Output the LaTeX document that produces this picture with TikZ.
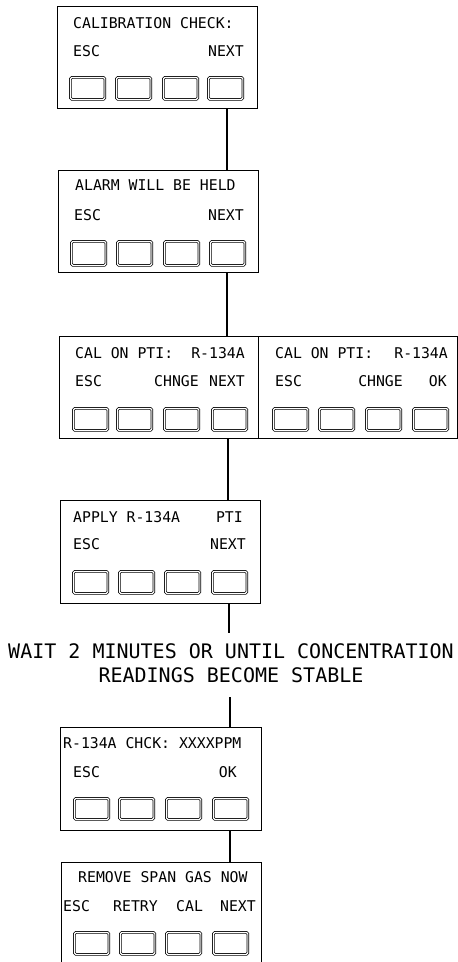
\documentclass[tikz,border=0pt]{standalone}
\usepackage{fontspec}
\newfontfamily\plotfont{DejaVu Sans Mono}
\usetikzlibrary{positioning}

\tikzset{
    screen/.style={draw, line width=0.9pt, minimum width=200pt, minimum height=102pt,
        inner sep=0pt, anchor=north west},
    key/.style={draw, line width=0.7pt, double, double distance=1.2pt, rounded corners=1.5pt,
        minimum width=34.5pt, minimum height=22pt, inner sep=0pt, anchor=north west},
    txt/.style={font=\plotfont\fontsize{14.8}{17}\selectfont, inner sep=0pt},
    link/.style={line width=1.1pt},
}

\begin{document}
\begin{tikzpicture}[x=1pt, y=-1pt]
\useasboundingbox (0,0) rectangle (458,962);

% ── SCREEN 1: Calibration check ──────────────────────────────────
\begin{scope}[shift={(57,6)}]
    \node[screen] (cal) at (0,0) {};
    \node[txt, anchor=west] (calT) at (16,17) {CALIBRATION CHECK:};
    \node[txt, anchor=west] (calEsc) at (16,45) {ESC};
    \node[txt, anchor=east] (calNext) at (187,45) {NEXT};
    \foreach \i/\kx in {0/13, 1/59, 2/106, 3/151} {
        \node[key] (calk\i) at (\kx,71) {};
    }
\end{scope}

% ── SCREEN 2: Alarm held ─────────────────────────────────────────
\begin{scope}[shift={(58,170)}]
    \node[screen] (alarm) at (0,0) {};
    \node[txt, anchor=west] (alarmT) at (17,15) {ALARM WILL BE HELD};
    \node[txt, anchor=west] (alarmEsc) at (16,45) {ESC};
    \node[txt, anchor=east] (alarmNext) at (186,45) {NEXT};
    \foreach \i/\kx in {0/13, 1/59, 2/106, 3/152} {
        \node[key, minimum height=24pt] (alarmk\i) at (\kx,71) {};
    }
\end{scope}

% ── SCREEN 3: Gas selection (two panels) ─────────────────────────
\begin{scope}[shift={(59,336)}]
    \node[screen, minimum width=199pt] (pti) at (0,0) {};
    \node[txt, anchor=west] (ptiT) at (16,17) {CAL ON PTI:};
    \node[txt, anchor=east] (ptiGas) at (186,17) {R-134A};
    \node[txt, anchor=west] (ptiEsc) at (16,45) {ESC};
    \node[txt, anchor=east] (ptiChg) at (140,45) {CHNGE};
    \node[txt, anchor=east] (ptiNext) at (186,45) {NEXT};
    \foreach \i/\kx in {0/14, 1/58, 2/105, 3/153} {
        \node[key] (ptik\i) at (\kx,72) {};
    }
\end{scope}

\begin{scope}[shift={(258,336)}]
    \node[screen, minimum width=199pt] (ptiok) at (0,0) {};
    \node[txt, anchor=west] (ptiokT) at (17,17) {CAL ON PTI:};
    \node[txt, anchor=east] (ptiokGas) at (190,17) {R-134A};
    \node[txt, anchor=west] (ptiokEsc) at (17,45) {ESC};
    \node[txt, anchor=east] (ptiokChg) at (145,45) {CHNGE};
    \node[txt, anchor=east] (ptiokOk) at (189,45) {OK};
    \foreach \i/\kx in {0/15, 1/61, 2/108, 3/155} {
        \node[key] (ptiokk\i) at (\kx,72) {};
    }
\end{scope}

% ── SCREEN 4: Apply gas ──────────────────────────────────────────
\begin{scope}[shift={(60,500)}]
    \node[screen, minimum height=103pt] (apply) at (0,0) {};
    \node[txt, anchor=west] (applyT) at (13,17) {APPLY R-134A};
    \node[txt, anchor=east] (applyPti) at (183,17) {PTI};
    \node[txt, anchor=west] (applyEsc) at (13,44) {ESC};
    \node[txt, anchor=east] (applyNext) at (186,44) {NEXT};
    \foreach \i/\kx in {0/13, 1/59, 2/105, 3/152} {
        \node[key] (applyk\i) at (\kx,71) {};
    }
\end{scope}

% ── Waiting step ─────────────────────────────────────────────────
\node[font=\plotfont\fontsize{20}{24}\selectfont, align=center, inner sep=0pt]
    (wait) at (231,663)
    {WAIT 2 MINUTES OR UNTIL CONCENTRATION\\READINGS BECOME STABLE};

% ── SCREEN 5: Check reading ──────────────────────────────────────
\begin{scope}[shift={(60,727)}]
    \node[screen, minimum width=201pt, minimum height=103pt] (chck) at (0,0) {};
    \node[txt, anchor=west] (chckT) at (3,16) {R-134A CHCK: XXXXPPM};
    \node[txt, anchor=west] (chckEsc) at (13,45) {ESC};
    \node[txt, anchor=east] (chckOk) at (177,45) {OK};
    \foreach \i/\kx in {0/14, 1/59, 2/106, 3/153} {
        \node[key, minimum height=21pt] (chckk\i) at (\kx,71) {};
    }
\end{scope}

% ── SCREEN 6: Remove span gas ────────────────────────────────────
\begin{scope}[shift={(61,862)}]
    \node[screen] (remove) at (0,0) {};
    \node[txt, anchor=west] (removeT) at (17,15) {REMOVE SPAN GAS NOW};
    \node[txt, anchor=west] (removeEsc) at (2,44) {ESC};
    \node[txt, anchor=west] (removeRetry) at (52,44) {RETRY};
    \node[txt, anchor=west] (removeCal) at (115,44) {CAL};
    \node[txt, anchor=east] (removeNext) at (195,44) {NEXT};
    \foreach \i/\kx in {0/13, 1/59, 2/105, 3/152} {
        \node[key] (removek\i) at (\kx,70) {};
    }
\end{scope}

% ── Connectors ───────────────────────────────────────────────────
\draw[link] ([xshift=170pt]cal.south west) -- ([xshift=170pt]cal.south west |- alarm.north);
\draw[link] ([xshift=169pt]alarm.south west) -- ([xshift=169pt]alarm.south west |- pti.north);
\draw[link] ([xshift=169pt]pti.south west) -- ([xshift=169pt]pti.south west |- apply.north);
\draw[link] ([xshift=169pt]apply.south west) -- ([xshift=169pt,yshift=10pt]apply.south west |- wait.north);
\draw[link] ([xshift=170pt]chck.north west) -- ([xshift=170pt,yshift=-14pt]chck.north west |- wait.south);
\draw[link] ([xshift=170pt]chck.south west) -- ([xshift=170pt]chck.south west |- remove.north);

\end{tikzpicture}
\end{document}
